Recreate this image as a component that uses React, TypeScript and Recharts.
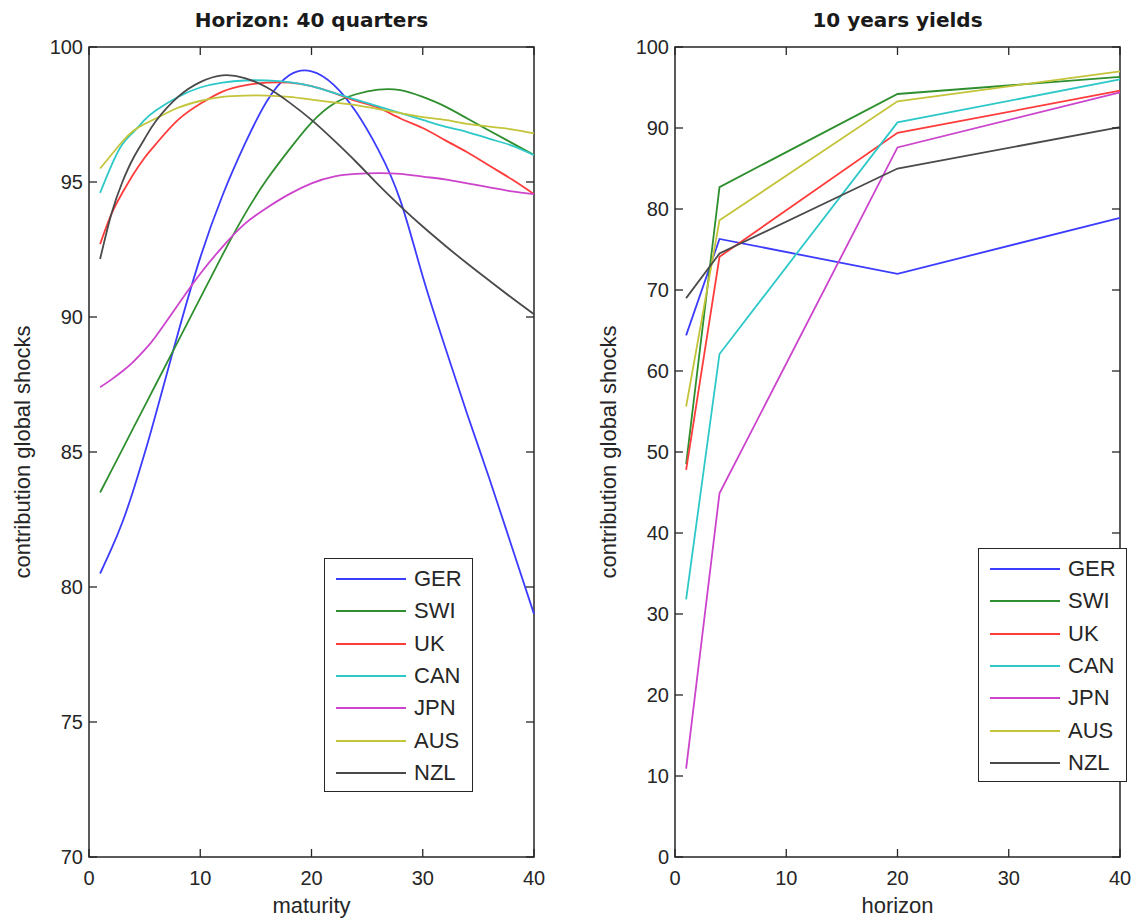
import { LineChart, Line, XAxis, YAxis, ReferenceArea, Legend } from "recharts"

const countries = ["GER", "SWI", "UK", "CAN", "JPN", "AUS", "NZL"]
const colors = ["#3c3cff", "#2f8f2f", "#ff3c3c", "#2ec8c8", "#cc44cc", "#c4c43a", "#4a4a4a"]

// left panel: horizon 40 quarters, by maturity
const maturities = [1, 2, 3, 4, 5, 6, 8, 10, 12, 14, 16, 18, 20, 22, 24, 26, 28, 30, 32, 34, 36, 38, 40]
const gerByMaturity = [80.5, 81.4, 82.4, 83.6, 84.95, 86.4, 89.4, 92.2, 94.5, 96.4, 98.0, 98.95, 99.1, 98.6, 97.6, 96.2, 94.3, 91.5, 88.9, 86.4, 84.0, 81.5, 79.0]
const swiByMaturity = [83.5, 84.3, 85.1, 85.9, 86.7, 87.5, 89.1, 90.7, 92.3, 93.8, 95.1, 96.2, 97.2, 97.9, 98.25, 98.42, 98.4, 98.15, 97.8, 97.35, 96.9, 96.45, 96.0]
const ukByMaturity = [92.7, 93.8, 94.6, 95.3, 95.9, 96.4, 97.3, 97.9, 98.35, 98.58, 98.68, 98.68, 98.55, 98.3, 98.0, 97.75, 97.35, 97.0, 96.55, 96.1, 95.6, 95.1, 94.55]
const canByMaturity = [94.6, 95.6, 96.4, 96.85, 97.3, 97.65, 98.15, 98.5, 98.68, 98.76, 98.76, 98.7, 98.55, 98.3, 98.05, 97.8, 97.55, 97.3, 97.05, 96.85, 96.6, 96.35, 96.0]
const jpnByMaturity = [87.4, 87.68, 87.99, 88.35, 88.78, 89.28, 90.45, 91.6, 92.6, 93.45, 94.05, 94.55, 94.95, 95.2, 95.3, 95.33, 95.3, 95.2, 95.1, 94.95, 94.8, 94.65, 94.55]
const ausByMaturity = [95.5, 96.0, 96.5, 96.9, 97.15, 97.35, 97.75, 98.0, 98.15, 98.2, 98.2, 98.15, 98.05, 97.95, 97.85, 97.7, 97.55, 97.4, 97.3, 97.15, 97.05, 96.95, 96.8]
const nzlByMaturity = [92.15, 93.8, 95.0, 95.9, 96.6, 97.25, 98.15, 98.7, 98.95, 98.85, 98.5, 97.95, 97.3, 96.55, 95.75, 94.9, 94.1, 93.35, 92.65, 91.98, 91.34, 90.71, 90.1]

// right panel: 10 years yields, by horizon
const horizons = [1, 4, 20, 40]
const gerByHorizon = [64.4, 76.3, 72.0, 78.9]
const swiByHorizon = [48.5, 82.7, 94.2, 96.3]
const ukByHorizon = [47.8, 74.1, 89.4, 94.6]
const canByHorizon = [31.8, 62.1, 90.7, 96.0]
const jpnByHorizon = [10.9, 44.9, 87.6, 94.4]
const ausByHorizon = [55.6, 78.6, 93.3, 97.0]
const nzlByHorizon = [69.0, 74.5, 85.0, 90.1]

const xTicks = [0, 10, 20, 30, 40]
const leftYTicks = [70, 75, 80, 85, 90, 95, 100]
const rightYTicks = [0, 10, 20, 30, 40, 50, 60, 70, 80, 90, 100]

const leftSeries = [gerByMaturity, swiByMaturity, ukByMaturity, canByMaturity, jpnByMaturity, ausByMaturity, nzlByMaturity]
const rightSeries = [gerByHorizon, swiByHorizon, ukByHorizon, canByHorizon, jpnByHorizon, ausByHorizon, nzlByHorizon]

function buildRows(xs: number[], series: number[][]) {
  return xs.map((x, i) => {
    const row: Record<string, number> = { x }
    countries.forEach((c, j) => {
      row[c] = series[j][i]
    })
    return row
  })
}

const leftData = buildRows(maturities, leftSeries)
const rightData = buildRows(horizons, rightSeries)

const PLOT_W = 445
const PLOT_H = 810
const TICK = 8
const AXIS = "#262626"
const FONT = "'Liberation Sans', Arial, sans-serif"

const XTick = ({ x, y, payload }: any) => (
  <g>
    <line x1={x} y1={y} x2={x} y2={y - TICK} stroke={AXIS} strokeWidth={1.3} />
    <line x1={x} y1={y - PLOT_H} x2={x} y2={y - PLOT_H + TICK} stroke={AXIS} strokeWidth={1.3} />
    <text x={x} y={y + 28} textAnchor="middle" fontSize={20} fill={AXIS} fontFamily={FONT}>
      {payload.value}
    </text>
  </g>
)

const YTick = ({ x, y, payload }: any) => (
  <g>
    <line x1={x} y1={y} x2={x + TICK} y2={y} stroke={AXIS} strokeWidth={1.3} />
    <line x1={x + PLOT_W} y1={y} x2={x + PLOT_W - TICK} y2={y} stroke={AXIS} strokeWidth={1.3} />
    <text x={x - 6} y={y} dy="0.36em" textAnchor="end" fontSize={20} fill={AXIS} fontFamily={FONT}>
      {payload.value}
    </text>
  </g>
)

// legend drawn in series order (recharts sorts its payload by name)
const LegendBox = () => (
  <div
    style={{
      width: 149,
      height: 234,
      border: `1.5px solid ${AXIS}`,
      boxSizing: "border-box",
      background: "#fff",
      position: "relative",
      fontFamily: FONT,
      fontSize: 22,
      color: AXIS,
    }}
  >
    {countries.map((c, i) => (
      <div
        key={c}
        style={{ position: "absolute", left: 0, top: 20 + i * 32.3 - 13, height: 26, display: "flex", alignItems: "center" }}
      >
        <div style={{ marginLeft: 11, width: 70, height: 2, background: colors[i] }} />
        <span style={{ marginLeft: 8, lineHeight: "26px" }}>{c}</span>
      </div>
    ))}
  </div>
)

interface PanelProps {
  data: Record<string, number>[]
  yDomain: [number, number]
  yTicks: number[]
  marginLeft: number
  marginRight: number
  width: number
  legendLeft: number
  legendTop: number
  curve: "natural" | "linear"
}

function Panel({ data, yDomain, yTicks, marginLeft, marginRight, width, legendLeft, legendTop, curve }: PanelProps) {
  return (
    <LineChart
      width={width}
      height={924}
      data={data}
      margin={{ top: 47, right: marginRight, bottom: 27, left: marginLeft }}
    >
      <XAxis
        dataKey="x"
        type="number"
        domain={[0, 40]}
        ticks={xTicks}
        interval={0}
        height={40}
        axisLine={false}
        tickLine={false}
        tickSize={0}
        tickMargin={0}
        tick={<XTick />}
      />
      <YAxis
        type="number"
        domain={yDomain}
        ticks={yTicks}
        interval={0}
        width={60}
        axisLine={false}
        tickLine={false}
        tickSize={0}
        tickMargin={0}
        tick={<YTick />}
      />
      <ReferenceArea x1={0} x2={40} y1={yDomain[0]} y2={yDomain[1]} fill="none" stroke={AXIS} strokeWidth={1.5} />
      {countries.map((c, i) => (
        <Line
          key={c}
          type={curve}
          dataKey={c}
          name={c}
          stroke={colors[i]}
          strokeWidth={1.8}
          dot={false}
          activeDot={false}
          isAnimationActive={false}
        />
      ))}
      <Legend
        layout="vertical"
        align="center"
        verticalAlign="middle"
        content={<LegendBox />}
        wrapperStyle={{ left: legendLeft, top: legendTop, width: 149, height: 234 }}
      />
    </LineChart>
  )
}

const labelStyle = { fontFamily: FONT, fontSize: 22, fill: AXIS }
const titleStyle = { fontFamily: "'DejaVu Sans', Verdana, sans-serif", fontSize: 20, fontWeight: 700, fill: "#1a1a1a" }

export default function App() {
  return (
    <div style={{ position: "absolute", left: 0, top: 0, width: 1142, height: 924, background: "#fff" }}>
      <div style={{ position: "absolute", left: 0, top: 0 }}>
        <Panel
          data={leftData}
          yDomain={[70, 100]}
          yTicks={leftYTicks}
          marginLeft={29}
          marginRight={26}
          width={560}
          legendLeft={324}
          legendTop={558}
          curve="natural"
        />
      </div>
      <div style={{ position: "absolute", left: 580, top: 0 }}>
        <Panel
          data={rightData}
          yDomain={[0, 100]}
          yTicks={rightYTicks}
          marginLeft={35}
          marginRight={22}
          width={562}
          legendLeft={398}
          legendTop={548}
          curve="linear"
        />
      </div>
      <svg width={1142} height={924} style={{ position: "absolute", left: 0, top: 0, pointerEvents: "none" }}>
        <text x={311.5} y={27} textAnchor="middle" {...titleStyle}>Horizon: 40 quarters</text>
        <text x={897.5} y={27} textAnchor="middle" {...titleStyle}>10 years yields</text>
        <text x={311.5} y={913} textAnchor="middle" {...labelStyle}>maturity</text>
        <text x={897.5} y={913} textAnchor="middle" {...labelStyle}>horizon</text>
        <text x={30} y={452} textAnchor="middle" transform="rotate(-90 30 452)" {...labelStyle}>contribution global shocks</text>
        <text x={616} y={452} textAnchor="middle" transform="rotate(-90 616 452)" {...labelStyle}>contribution global shocks</text>
      </svg>
    </div>
  )
}
